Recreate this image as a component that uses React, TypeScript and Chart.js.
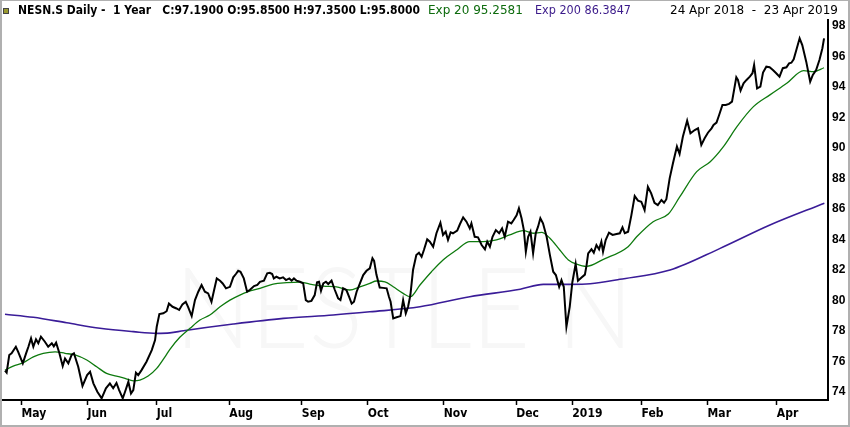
import { useEffect, useRef } from 'react'
import { Chart, registerables } from 'chart.js'

Chart.register(...registerables)

// x = trading day since 24 Apr 2018, y = price (CHF)
const closePoints: [number, number][] = [
  [0.0, 75.4], [0.5, 75.27], [1.3, 76.43], [2.0, 76.54], [3.3, 76.97], [4.0, 76.64], [5.4, 75.88], [6.4, 76.54], [7.1, 76.97], [7.9, 77.52],
  [8.6, 76.97], [9.4, 77.46], [10.1, 77.2], [10.9, 77.63], [12.1, 77.3], [13.1, 76.97], [14.2, 77.2], [14.8, 77.0], [15.5, 77.24], [16.5, 76.54],
  [17.5, 75.7], [18.2, 76.2], [19.2, 75.88], [20.2, 76.43], [20.9, 76.54], [22.2, 75.66], [23.5, 74.4], [24.9, 75.11], [25.8, 75.33], [26.8, 74.57],
  [28.0, 74.02], [29.3, 73.59], [30.6, 74.25], [31.8, 74.57], [32.8, 74.25], [33.8, 74.6], [34.6, 74.13], [35.7, 73.59], [36.4, 74.02], [37.4, 74.67],
  [38.2, 73.9], [38.9, 74.13], [39.7, 75.27], [40.4, 75.11], [41.4, 75.44], [42.9, 75.99], [44.5, 76.75], [45.5, 77.41], [46.0, 78.28], [46.8, 79.11],
  [48.0, 79.16], [49.0, 79.3], [49.7, 79.8], [50.8, 79.59], [52.0, 79.48], [52.8, 79.38], [53.8, 79.75], [54.8, 79.92], [55.5, 79.59], [56.6, 78.98],
  [57.6, 80.03], [58.6, 80.58], [59.6, 81.02], [60.6, 80.58], [61.6, 80.47], [62.6, 79.92], [63.4, 80.69], [64.2, 81.45], [65.2, 81.3], [66.0, 81.12],
  [67.0, 80.8], [68.2, 80.9], [69.2, 81.52], [70.0, 81.74], [70.7, 81.95], [71.4, 81.89], [72.4, 81.45], [73.4, 80.58], [74.2, 80.69], [75.5, 80.95],
  [76.5, 81.02], [77.3, 81.23], [78.5, 81.3], [79.5, 81.78], [80.3, 81.82], [81.0, 81.74], [81.5, 81.45], [82.3, 81.56], [83.3, 81.45], [84.3, 81.52],
  [85.2, 81.34], [86.2, 81.45], [86.9, 81.3], [87.6, 81.45], [88.4, 81.3], [89.4, 81.23], [90.4, 81.12], [91.2, 80.03], [91.9, 79.92], [92.9, 79.98],
  [93.9, 80.36], [94.6, 81.19], [95.2, 81.23], [95.8, 80.64], [96.5, 81.12], [97.3, 81.23], [98.0, 81.08], [99.0, 81.3], [100.0, 80.69], [101.0, 80.14],
  [101.7, 80.03], [102.5, 80.8], [103.5, 80.69], [104.3, 80.25], [105.1, 79.8], [105.8, 79.92], [106.6, 80.58], [107.6, 81.12], [108.6, 81.67], [109.6, 81.95],
  [110.6, 82.11], [111.4, 82.77], [111.9, 82.6], [112.6, 81.7], [113.6, 80.85], [114.6, 80.83], [115.7, 80.8], [116.4, 80.25], [116.9, 79.92], [117.7, 78.83],
  [118.7, 78.9], [119.9, 78.98], [120.7, 80.03], [121.5, 79.16], [122.2, 79.59], [122.9, 80.36], [123.7, 82.0], [124.7, 82.98], [125.5, 83.13], [126.3, 82.87],
  [127.0, 83.31], [128.0, 84.01], [128.8, 83.86], [129.8, 83.53], [130.8, 84.41], [132.0, 85.1], [132.8, 84.3], [133.6, 84.51], [134.3, 83.97], [135.1, 84.47],
  [135.8, 84.41], [137.1, 84.58], [137.9, 85.0], [138.9, 85.45], [139.9, 85.17], [140.9, 84.73], [141.4, 85.06], [142.4, 84.18], [143.4, 84.14], [144.5, 83.64],
  [145.5, 83.36], [146.2, 83.86], [147.0, 83.53], [147.8, 84.18], [148.8, 84.62], [149.8, 84.41], [150.7, 84.73], [151.5, 84.18], [152.5, 85.17], [153.5, 85.06],
  [154.2, 85.28], [155.1, 85.59], [155.8, 86.05], [156.6, 85.39], [157.3, 84.62], [157.9, 83.2], [158.6, 84.18], [159.3, 84.51], [160.1, 83.09], [160.9, 84.41],
  [161.6, 84.84], [162.3, 85.39], [163.1, 85.06], [164.2, 84.18], [165.2, 82.98], [166.2, 81.89], [167.0, 81.67], [168.0, 80.9], [168.7, 81.34], [169.4, 80.9],
  [170.2, 78.28], [171.2, 79.59], [172.0, 81.2], [173.0, 82.4], [173.7, 81.3], [174.7, 81.5], [175.8, 81.7], [176.3, 82.3], [176.8, 83.09], [177.8, 83.36],
  [178.5, 83.13], [179.3, 83.64], [180.1, 83.36], [180.8, 83.86], [181.3, 83.2], [182.1, 83.97], [183.1, 84.45], [184.2, 84.3], [185.4, 84.36], [186.4, 84.41],
  [187.2, 84.8], [187.9, 84.41], [188.9, 84.51], [189.9, 85.6], [190.9, 86.85], [191.9, 86.55], [192.9, 86.48], [193.9, 85.93], [194.9, 87.46], [195.9, 87.03],
  [196.9, 86.41], [197.9, 86.26], [199.0, 86.59], [199.8, 86.41], [200.5, 86.64], [201.5, 88.01], [202.5, 89.0], [203.7, 90.09], [204.5, 89.61], [205.5, 90.74],
  [206.8, 91.79], [207.8, 90.96], [209.1, 91.18], [210.1, 91.29], [211.1, 90.2], [212.1, 90.64], [213.1, 91.0], [214.2, 91.29], [214.8, 91.51], [215.7, 91.66],
  [216.5, 92.16], [217.5, 92.82], [218.5, 92.82], [219.5, 92.89], [220.4, 93.04], [221.7, 94.64], [222.2, 94.46], [223.0, 93.76], [223.9, 94.24], [224.8, 94.46],
  [225.8, 94.68], [226.6, 94.9], [227.1, 95.44], [228.0, 93.91], [229.0, 94.02], [229.8, 94.94], [230.8, 95.33], [231.8, 95.29], [232.8, 95.11], [233.8, 94.9],
  [234.8, 94.68], [235.8, 95.23], [236.9, 95.29], [237.7, 95.55], [238.4, 95.59], [239.1, 95.81], [239.9, 96.43], [240.9, 97.19], [241.7, 96.75], [242.9, 95.66],
  [244.1, 94.35], [244.9, 94.79], [245.9, 95.11], [246.9, 95.77], [247.8, 96.54], [248.3, 97.19],
]

const ema20Points: [number, number][] = [
  [0, 75.44], [2.5, 75.7], [5.5, 75.92], [8.6, 76.31], [11.6, 76.54], [15.2, 76.64], [18.2, 76.54], [21.2, 76.43], [24.8, 76.1], [27.8, 75.66],
  [30.8, 75.22], [33.8, 75.05], [36.4, 74.9], [38.9, 74.74], [40.9, 74.79], [43.4, 75.05], [46.0, 75.55], [48.5, 76.31], [50.0, 76.8], [53.0, 77.59],
  [56.1, 78.18], [59.1, 78.72], [62.1, 79.05], [65.2, 79.59], [68.2, 80.03], [71.2, 80.36], [73.7, 80.58], [77.3, 80.8], [81.3, 81.08], [85.4, 81.17],
  [89.4, 81.21], [92.4, 81.08], [96.5, 80.95], [100.5, 80.9], [104.5, 80.69], [107.6, 80.9], [110.6, 81.12], [112.6, 81.28], [115.2, 81.23], [117.7, 80.9],
  [120.7, 80.47], [122.9, 80.25], [125.8, 81.02], [129.3, 81.89], [132.8, 82.66], [136.9, 83.31], [140.9, 83.86], [145.0, 83.86], [149.0, 83.97], [153.0, 84.3],
  [157.1, 84.58], [160.1, 84.41], [162.7, 84.47], [165.2, 84.08], [168.2, 83.31], [170.8, 82.66], [173.3, 82.39], [176.3, 82.24], [181.4, 82.7], [188.9, 83.53],
  [191.5, 84.18], [196.5, 85.17], [201.1, 85.67], [204.6, 86.81], [209.7, 88.45], [213.8, 89.1], [217.8, 90.09], [221.9, 91.4], [226.9, 92.71], [231.9, 93.48],
  [237.0, 94.24], [242.1, 95.07], [245.1, 95.0], [248.3, 95.26],
]

const ema200Points: [number, number][] = [
  [0, 79.1], [8.6, 78.9], [18.7, 78.54], [28.8, 78.18], [38.9, 77.96], [46.0, 77.85], [50.0, 77.88], [54.1, 78.02], [69.2, 78.46], [84.4, 78.83],
  [99.5, 79.05], [110.6, 79.26], [125.8, 79.59], [140.9, 80.25], [156.2, 80.74], [163.2, 81.06], [171.3, 81.06], [177.4, 81.1], [186.4, 81.39], [201.6, 82.0],
  [216.8, 83.42], [231.9, 84.95], [248.4, 86.38],
]

const monthDays = [5, 25, 46, 68, 90, 110, 133, 155, 172, 193, 213, 234]
const monthLabels = ['May', 'Jun', 'Jul', 'Aug', 'Sep', 'Oct', 'Nov', 'Dec', '2019', 'Feb', 'Mar', 'Apr']
const priceTicks = [74, 76, 78, 80, 82, 84, 86, 88, 90, 92, 94, 96, 98]

const toXY = (pts: [number, number][]) => pts.map(([x, y]) => ({ x, y }))

const decorPlugin = {
  id: 'decor',
  beforeDatasetsDraw(chart: any) {
    // faint watermark behind the lines
    const ctx = chart.ctx
    ctx.save()
    ctx.font = '300 112px Lato'
    const text = 'NESTLE N'
    const w = ctx.measureText(text).width
    ctx.translate(175, 348)
    ctx.scale(458 / w, 1)
    ctx.fillStyle = '#f7f7f7'
    ctx.textBaseline = 'alphabetic'
    ctx.fillText(text, 0, 0)
    ctx.restore()
  },
  afterDraw(chart: any) {
    const ctx = chart.ctx
    ctx.save()
    ctx.textBaseline = 'middle'
    ctx.fillStyle = '#9a9a30'
    ctx.fillRect(4, 9, 4, 4)
    ctx.strokeStyle = '#444'
    ctx.lineWidth = 1
    ctx.strokeRect(3.5, 8.5, 5, 5)

    ctx.fillStyle = '#000'
    ctx.font = 'bold 12px "DejaVu Sans"'
    ctx.fillText('NESN.S Daily -  1 Year   C:97.1900 O:95.8500 H:97.3500 L:95.8000', 18, 11, 402)
    ctx.font = '12px "DejaVu Sans"'
    ctx.fillStyle = '#0d6b0d'
    ctx.fillText('Exp 20 95.2581', 428, 11, 102)
    ctx.fillStyle = '#3b1a8a'
    ctx.fillText('Exp 200 86.3847', 535, 11, 96)
    ctx.fillStyle = '#000'
    ctx.textAlign = 'right'
    ctx.fillText('24 Apr 2018  -  23 Apr 2019', 838, 11, 175)

    ctx.strokeStyle = '#b0b0b0'
    ctx.lineWidth = 2
    ctx.strokeRect(1, 0, 848, 426)
    ctx.restore()
  },
}

const App = () => {
  const canvasRef = useRef<HTMLCanvasElement>(null)
  const chartRef = useRef<Chart | null>(null)

  useEffect(() => {
    if (canvasRef.current) {
      chartRef.current = new Chart(canvasRef.current, {
        type: 'line',
        data: {
          datasets: [
            {
              label: 'NESN.S',
              data: toXY(closePoints),
              borderColor: '#000',
              borderWidth: 2,
              pointRadius: 0,
              tension: 0,
            },
            {
              label: 'Exp 20',
              data: toXY(ema20Points),
              borderColor: '#0e7a0e',
              borderWidth: 1.3,
              pointRadius: 0,
              cubicInterpolationMode: 'monotone',
            },
            {
              label: 'Exp 200',
              data: toXY(ema200Points),
              borderColor: '#3a1c98',
              borderWidth: 1.6,
              pointRadius: 0,
              cubicInterpolationMode: 'monotone',
            },
          ],
        },
        options: {
          animation: false,
          responsive: false,
          layout: { padding: { top: 20, left: 3, right: 0, bottom: 3 } },
          plugins: { legend: { display: false }, tooltip: { enabled: false } },
          scales: {
            x: {
              type: 'linear',
              min: -0.6,
              max: 249.5,
              afterBuildTicks: (s: any) => {
                s.ticks = monthDays.map((v) => ({ value: v }))
              },
              afterFit: (s: any) => {
                s.height = 24
              },
              grid: { drawOnChartArea: false, drawTicks: true, tickLength: 5, tickWidth: 1.5, tickColor: '#000' },
              border: { display: true, color: '#000', width: 2 },
              ticks: {
                autoSkip: false,
                maxRotation: 0,
                align: 'start',
                padding: 2,
                color: '#000',
                font: { family: '"DejaVu Sans Condensed", "DejaVu Sans"', size: 12, weight: 'bold' },
                callback: (v: any) => monthLabels[monthDays.indexOf(v)] ?? '',
              },
            },
            y: {
              type: 'linear',
              position: 'right',
              min: 73.48,
              max: 98.39,
              afterBuildTicks: (s: any) => {
                s.ticks = priceTicks.map((v) => ({ value: v }))
              },
              afterFit: (s: any) => {
                s.width = 22
              },
              grid: { display: false, drawTicks: false },
              border: { display: true, color: '#000', width: 2 },
              ticks: {
                padding: 4,
                color: '#000',
                font: { family: '"Liberation Sans"', size: 12, weight: 'bold' },
              },
            },
          },
        },
        plugins: [decorPlugin],
      })
    }
    return () => {
      if (chartRef.current) {
        chartRef.current.destroy()
      }
    }
  }, [])

  return (
    <div style={{ position: 'fixed', left: 0, top: 0, width: 850, height: 427, background: '#fff' }}>
      <canvas ref={canvasRef} width={850} height={427}></canvas>
    </div>
  )
}

export default App
